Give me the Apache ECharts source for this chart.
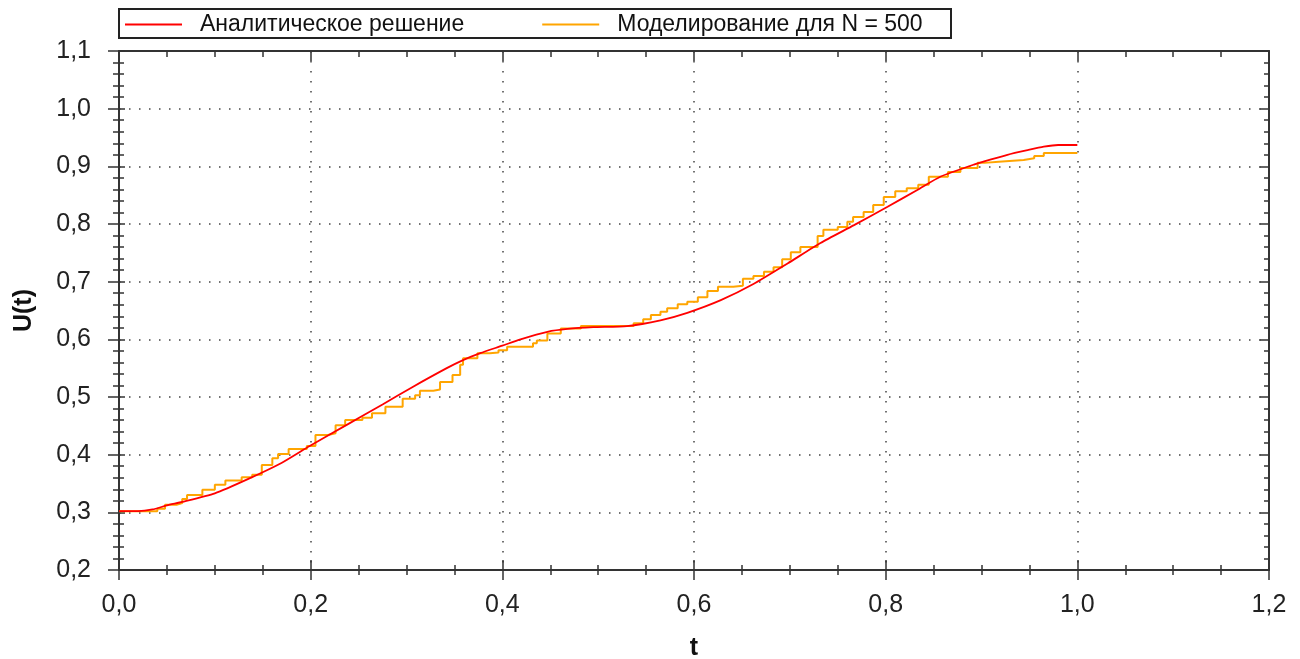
<!DOCTYPE html>
<html>
<head>
<meta charset="utf-8">
<script src="https://cdn.jsdelivr.net/npm/echarts@6.0.0/dist/echarts.min.js"></script>
<style>
    html, body { margin: 0; padding: 0; background: #fff; }
    #main { width: 1300px; height: 659px; }
</style>
</head>
<body>
<div id="main"></div>
<script>
// аналитическое решение
const analyticT = [0, 0.020, 0.035, 0.050, 0.066, 0.100, 0.135, 0.170, 0.199, 0.239, 0.275, 0.306, 0.342, 0.359, 0.377, 0.400, 0.419, 0.447, 0.468, 0.495, 0.530, 0.565, 0.593, 0.628, 0.662, 0.698, 0.732, 0.767, 0.802, 0.833, 0.857, 0.892, 0.910, 0.927, 0.948, 0.965, 0.980, 1.000]
const analyticU = [0.302, 0.302, 0.305, 0.312, 0.318, 0.333, 0.358, 0.386, 0.415, 0.453, 0.487, 0.517, 0.550, 0.564, 0.576, 0.589, 0.600, 0.613, 0.618, 0.621, 0.623, 0.633, 0.646, 0.668, 0.696, 0.732, 0.767, 0.798, 0.830, 0.859, 0.882, 0.903, 0.912, 0.920, 0.928, 0.934, 0.937, 0.937]

// моделирование N = 500 (ступеньки)
const simT = [0, 0.040, 0.048, 0.060, 0.066, 0.071, 0.087, 0.100, 0.111, 0.128,
    0.139, 0.149, 0.160, 0.166, 0.177, 0.196, 0.205, 0.218, 0.226, 0.236,
    0.254, 0.264, 0.278, 0.296, 0.309, 0.314, 0.328, 0.335, 0.348, 0.356,
    0.359, 0.374, 0.387, 0.396, 0.405, 0.432, 0.436, 0.447, 0.461, 0.482,
    0.537, 0.547, 0.555, 0.565, 0.572, 0.583, 0.593, 0.604, 0.614, 0.625,
    0.641, 0.651, 0.662, 0.673, 0.683, 0.692, 0.701, 0.711, 0.729, 0.735,
    0.750, 0.760, 0.766, 0.777, 0.787, 0.798, 0.810, 0.822, 0.834, 0.845,
    0.865, 0.878, 0.896, 0.903, 0.918, 0.944, 0.955, 0.965, 1.000]
const simU = [0.302, 0.306, 0.313, 0.316, 0.323, 0.330, 0.339, 0.348, 0.355, 0.361,
    0.365, 0.382, 0.394, 0.401, 0.410, 0.415, 0.434, 0.437, 0.451, 0.460,
    0.464, 0.472, 0.483, 0.497, 0.503, 0.511, 0.513, 0.526, 0.538, 0.556,
    0.567, 0.576, 0.577, 0.581, 0.587, 0.593, 0.598, 0.610, 0.619, 0.623,
    0.628, 0.635, 0.642, 0.648, 0.654, 0.661, 0.665, 0.673, 0.684, 0.691,
    0.693, 0.705, 0.710, 0.717, 0.725, 0.739, 0.751, 0.760, 0.779, 0.790,
    0.795, 0.804, 0.812, 0.821, 0.833, 0.847, 0.857, 0.862, 0.868, 0.882,
    0.890, 0.897, 0.906, 0.908, 0.911, 0.914, 0.918, 0.923, 0.923]

const legendNames = ['Аналитическое решение', 'Моделирование для N = 500']
const xMin = 0, xMax = 1.2, xStep = 0.2
const yMin = 0.2, yMax = 1.1, yStep = 0.1

const font = 'Liberation Sans, Arial, sans-serif'
const axisColor = '#333'
const fmt = (v) => v.toFixed(1).replace('.', ',')

function pairs(xs, ys) {
    return xs.map((x, i) => [x, ys[i]])
}

// ось без подписей, только засечки
function tickAxis(pos, inside, len, minorLen, showLine, minorSplit, min, max, step) {
    return {
        type: 'value', position: pos, min: min, max: max, interval: step,
        axisLine: { show: showLine, onZero: false, lineStyle: { color: axisColor, width: 2 } },
        axisTick: { show: true, inside: inside, length: len, lineStyle: { color: axisColor, width: 1.5 } },
        minorTick: { show: true, splitNumber: minorSplit, length: minorLen, lineStyle: { color: axisColor, width: 1.5 } },
        axisLabel: { show: false },
        splitLine: { show: false }
    }
}

const dotted = { show: true, lineStyle: { color: '#444', width: 1.5, type: [1.5, 8.5] } }

let option = {
    animation: false,
    color: ['#ff0000', '#ffa500'],
    grid: { left: 119, right: 31, top: 51, bottom: 89, outerBoundsMode: 'none', containLabel: false },
    legend: {
        data: legendNames,
        left: 125,
        top: 13,
        padding: 0,
        icon: 'rect',
        itemWidth: 57,
        itemHeight: 2,
        itemGap: 78,
        textStyle: { fontFamily: font, fontSize: 23, color: '#111', padding: [0, 0, 0, 13] }
    },
    graphic: [{
        type: 'rect',
        shape: { x: 119, y: 9, width: 832, height: 29 },
        style: { fill: 'none', stroke: '#222', lineWidth: 2 }
    }],
    xAxis: [
        {
            type: 'value', position: 'bottom', min: xMin, max: xMax, interval: xStep,
            name: 't', nameLocation: 'middle', nameGap: 66,
            nameTextStyle: { fontFamily: font, fontSize: 25, fontWeight: 'bold', color: '#111' },
            axisLine: { show: true, onZero: false, lineStyle: { color: axisColor, width: 2 } },
            axisTick: { show: true, inside: false, length: 10, lineStyle: { color: axisColor, width: 1.5 } },
            minorTick: { show: true, splitNumber: 4, length: 5, lineStyle: { color: axisColor, width: 1.5 } },
            axisLabel: { formatter: fmt, fontFamily: font, fontSize: 25, color: '#222', margin: 23 },
            splitLine: dotted
        },
        tickAxis('bottom', true, 10, 5, false, 4, xMin, xMax, xStep),
        tickAxis('top', true, 10, 6, true, 4, xMin, xMax, xStep)
    ],
    yAxis: [
        {
            type: 'value', position: 'left', min: yMin, max: yMax, interval: yStep,
            name: 'U(t)', nameLocation: 'middle', nameGap: 82,
            nameTextStyle: { fontFamily: font, fontSize: 25, fontWeight: 'bold', color: '#111' },
            axisLine: { show: true, onZero: false, lineStyle: { color: axisColor, width: 2 } },
            axisTick: { show: true, inside: false, length: 11, lineStyle: { color: axisColor, width: 1.5 } },
            minorTick: { show: true, splitNumber: 5, length: 6, lineStyle: { color: axisColor, width: 1.5 } },
            axisLabel: { formatter: fmt, fontFamily: font, fontSize: 25, color: '#222', margin: 28 },
            splitLine: dotted
        },
        tickAxis('left', true, 6, 5, false, 5, yMin, yMax, yStep),
        tickAxis('right', true, 9, 5, true, 5, yMin, yMax, yStep)
    ],
    series: [
        {
            name: legendNames[0],
            type: 'line',
            data: pairs(analyticT, analyticU),
            symbol: 'none',
            smooth: 0.2,
            lineStyle: { color: '#ff0000', width: 1.8 },
            z: 3
        },
        {
            name: legendNames[1],
            type: 'line',
            step: 'end',
            data: pairs(simT, simU),
            symbol: 'none',
            lineStyle: { color: '#ffa500', width: 2 },
            z: 2
        }
    ]
};

var myChart = echarts.init(document.getElementById('main'));
option && myChart.setOption(option);
</script>
</body>
</html>
